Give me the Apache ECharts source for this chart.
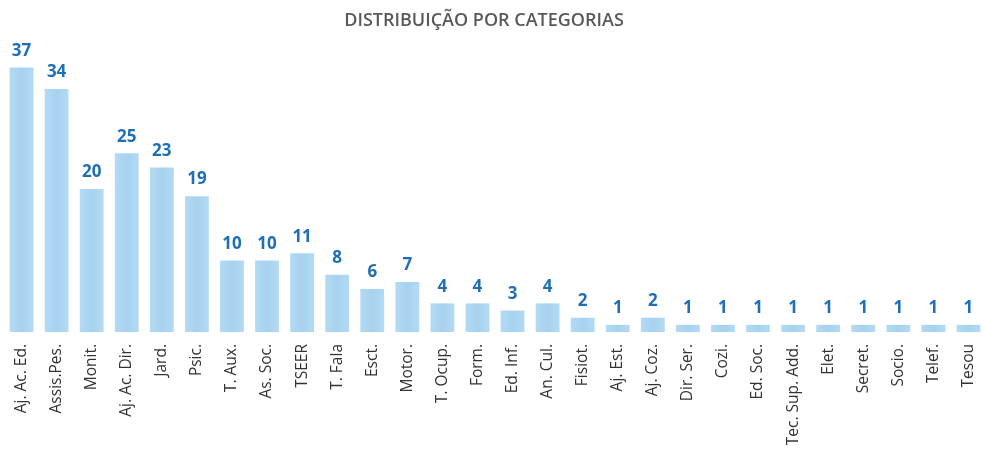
<!DOCTYPE html>
<html>
<head>
<meta charset="utf-8">
<script src="https://cdn.jsdelivr.net/npm/echarts@6/dist/echarts.min.js"></script>
<style>
  html, body { margin: 0; padding: 0; background: #fff; }
  #chart { width: 986px; height: 455px; }
</style>
</head>
<body>
<div id="chart"></div>
<script>
const categories = ['Aj. Ac. Ed.', 'Assis.Pes.', 'Monit.', 'Aj. Ac. Dir.', 'Jard.', 'Psic.', 'T. Aux.', 'As. Soc.', 'TSEER', 'T. Fala',
  'Esct.', 'Motor.', 'T. Ocup.', 'Form.', 'Ed. Inf.', 'An. Cul.', 'Fisiot.', 'Aj. Est.', 'Aj. Coz.', 'Dir. Ser.',
  'Cozi.', 'Ed. Soc.', 'Tec. Sup. Add.', 'Elet.', 'Secret.', 'Socio.', 'Telef.', 'Tesou'];
const values = [37, 34, 20, 25, 23, 19, 10, 10, 11, 8, 6, 7, 4, 4, 3, 4, 2, 1, 2, 1, 1, 1, 1, 1, 1, 1, 1, 1];

const chart = echarts.init(document.getElementById('chart'));

chart.setOption({
  backgroundColor: '#fff',
  animation: false,
  title: {
    text: 'DISTRIBUIÇÃO POR CATEGORIAS',
    left: 479,
    top: 7,
    textAlign: 'center',
    textStyle: { color: '#595959', fontFamily: 'Open Sans', fontSize: 18, fontWeight: 600 }
  },
  grid: { left: 4, top: 46, width: 994, height: 286 },
  xAxis: {
    type: 'category',
    data: categories,
    axisLine: { show: false },
    axisTick: { show: false },
    axisLabel: {
      rotate: 90,
      interval: 0,
      margin: 12,
      color: '#333',
      fontFamily: 'Open Sans',
      fontSize: 15.5
    }
  },
  yAxis: {
    type: 'value',
    min: 0,
    max: 40,
    show: false
  },
  series: [{
    type: 'bar',
    data: values,
    barCategoryGap: '32%',
    itemStyle: {
      color: new echarts.graphic.LinearGradient(0, 0, 1, 0, [
        { offset: 0, color: '#b3daf3' },
        { offset: 0.5, color: '#a6d2f0' },
        { offset: 1, color: '#b3daf3' }
      ])
    },
    label: {
      show: true,
      position: 'top',
      distance: 8,
      color: '#1e6fb8',
      fontFamily: 'Open Sans',
      fontSize: 17,
      fontWeight: 'bold'
    }
  }]
});
</script>
</body>
</html>
